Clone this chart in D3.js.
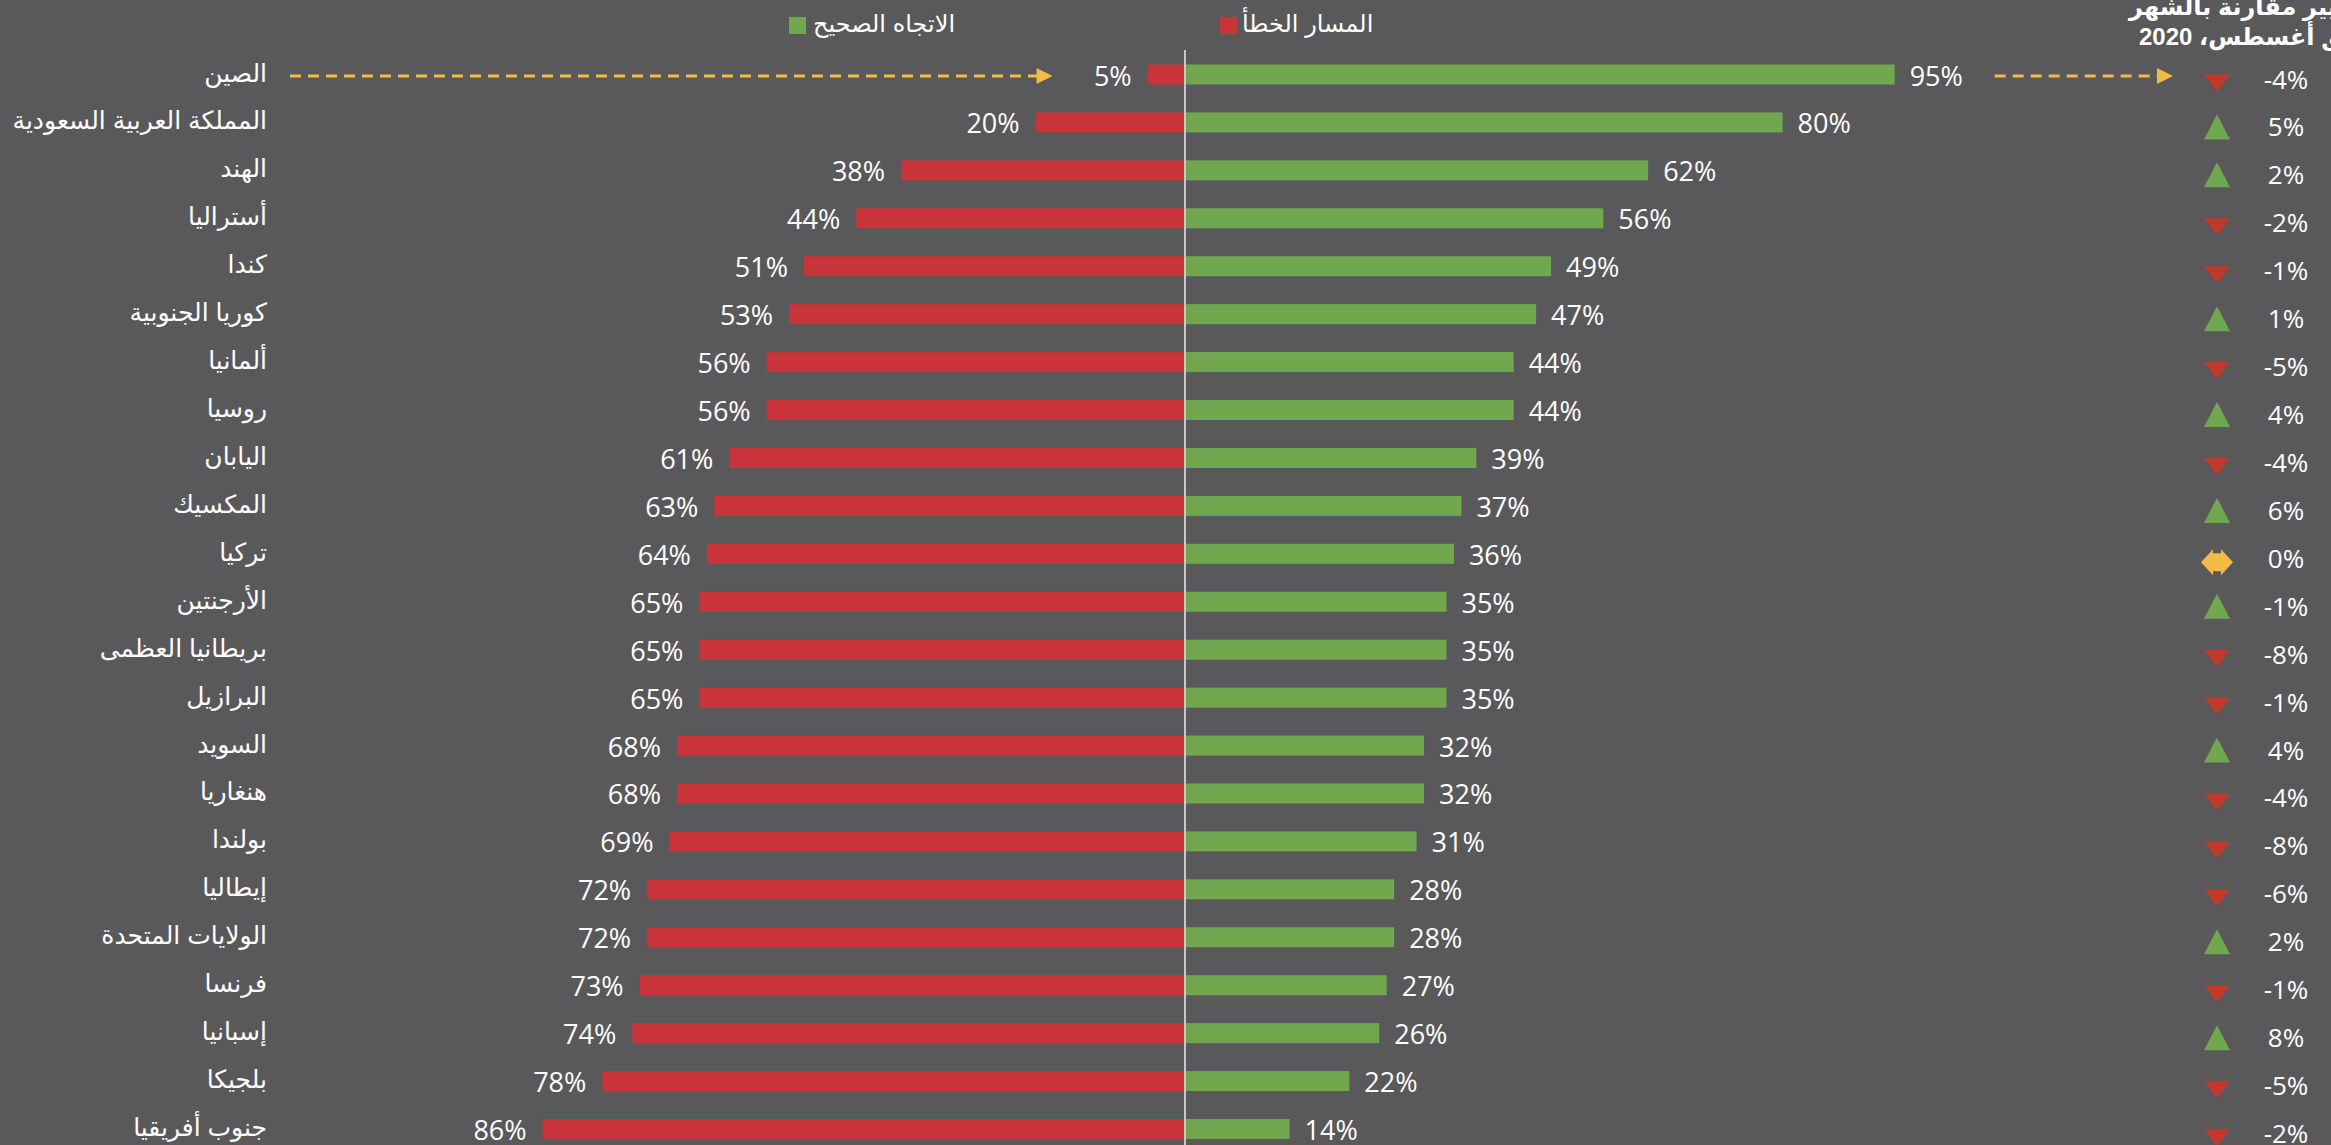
<!DOCTYPE html>
<html lang="ar">
<head>
<meta charset="utf-8">
<script src="https://cdn.jsdelivr.net/npm/d3@7"></script>
<style>
  html, body { margin: 0; padding: 0; background: #59595B; overflow: hidden; }
  svg { display: block; }
</style>
</head>
<body>
<svg id="chart" width="2331" height="1145"></svg>
<script>
// ---------------- DATA ----------------
const countries = [
  "الصين", "المملكة العربية السعودية", "الهند", "أستراليا", "كندا",
  "كوريا الجنوبية", "ألمانيا", "روسيا", "اليابان", "المكسيك", "تركيا",
  "الأرجنتين", "بريطانيا العظمى", "البرازيل", "السويد", "هنغاريا",
  "بولندا", "إيطاليا", "الولايات المتحدة", "فرنسا", "إسبانيا", "بلجيكا",
  "جنوب أفريقيا"
];
const wrongTrack = [5, 20, 38, 44, 51, 53, 56, 56, 61, 63, 64, 65, 65, 65, 68, 68, 69, 72, 72, 73, 74, 78, 86];
const rightDirection = [95, 80, 62, 56, 49, 47, 44, 44, 39, 37, 36, 35, 35, 35, 32, 32, 31, 28, 28, 27, 26, 22, 14];
const changeLabels = ["-4%", "5%", "2%", "-2%", "-1%", "1%", "-5%", "4%", "-4%", "6%", "0%", "-1%", "-8%", "-1%", "4%", "-4%", "-8%", "-6%", "2%", "-1%", "8%", "-5%", "-2%"];
const trend = ["down", "up", "up", "down", "down", "up", "down", "up", "down", "up", "flat", "up", "down", "down", "up", "down", "down", "down", "up", "down", "up", "down", "down"];
const seriesNames = ["الاتجاه الصحيح", "المسار الخطأ"];
const headerLines = ["التغيير مقارنة بالشهر", "السابق أغسطس، 2020"];

// ---------------- STYLE ----------------
const C = {
  bg: "#59595B", red: "#C9343B", green: "#71A84F", redTri: "#C0392B",
  greenTri: "#71A84F", yellow: "#F1BB45", axis: "#C8C8C8", text: "#FFFFFF"
};
const arabicFont = "Arial, 'DejaVu Sans', sans-serif";
const numFont = "'Open Sans', 'Noto Sans', sans-serif";

const svg = d3.select("#chart");
svg.append("rect").attr("width", 2331).attr("height", 1145).attr("fill", C.bg);

const cx = 1185;
const x = d3.scaleLinear().domain([-100, 100]).range([cx - 747, cx + 747]);
const y = d3.scalePoint().domain(countries).range([74.5, 1129]);
const barH = 20;

const rows = countries.map((c, i) => ({
  c, i, wrong: wrongTrack[i], right: rightDirection[i], chg: changeLabels[i], tr: trend[i]
}));

// Bars
svg.append("g").selectAll("rect").data(rows).join("rect")
  .attr("x", d => x(-d.wrong)).attr("width", d => x(0) - x(-d.wrong))
  .attr("y", d => y(d.c) - barH / 2).attr("height", barH)
  .attr("fill", C.red);
svg.append("g").selectAll("rect").data(rows).join("rect")
  .attr("x", x(0)).attr("width", d => x(d.right) - x(0))
  .attr("y", d => y(d.c) - barH / 2).attr("height", barH)
  .attr("fill", C.green);

// Center axis line
svg.append("line").attr("x1", x(0)).attr("x2", x(0)).attr("y1", 50).attr("y2", 1145)
  .attr("stroke", C.axis).attr("stroke-width", 2);

// Value labels
svg.append("g").selectAll("text").data(rows).join("text")
  .attr("x", d => x(-d.wrong) - 16).attr("y", d => y(d.c) + 11)
  .attr("text-anchor", "end").attr("fill", C.text)
  .attr("font-family", numFont).attr("font-size", 27)
  .text(d => d.wrong + "%");
svg.append("g").selectAll("text").data(rows).join("text")
  .attr("x", d => x(d.right) + 15).attr("y", d => y(d.c) + 11)
  .attr("text-anchor", "start").attr("fill", C.text)
  .attr("font-family", numFont).attr("font-size", 27)
  .text(d => d.right + "%");

// Country labels
svg.append("g").selectAll("text").data(rows).join("text")
  .attr("x", 267).attr("y", d => y(d.c) + 7)
  .attr("text-anchor", "end").attr("fill", C.text)
  .attr("font-family", arabicFont).attr("font-size", 25)
  .text(d => d.c);

// Right column: trend symbols and change labels
const symX = 2217;
const symG = svg.append("g");
rows.forEach(d => {
  const cy = y(d.c);
  let pts;
  if (d.tr === "up") {
    pts = [[0, -8], [13, 17], [-13, 17]];
    symG.append("polygon").attr("points", pts.map(p => [symX + p[0], cy + p[1]].join(",")).join(" "))
      .attr("fill", C.greenTri);
  } else if (d.tr === "down") {
    pts = [[-13, 0], [13, 0], [0, 17]];
    symG.append("polygon").attr("points", pts.map(p => [symX + p[0], cy + p[1]].join(",")).join(" "))
      .attr("fill", C.redTri);
  } else {
    const oy = 8.5;
    pts = [[-16, 0], [-4, -13], [-4, -9], [4, -9], [4, -13], [16, 0], [4, 13], [4, 9], [-4, 9], [-4, 13]];
    symG.append("polygon").attr("points", pts.map(p => [symX + p[0], cy + oy + p[1]].join(",")).join(" "))
      .attr("fill", C.yellow);
  }
});
svg.append("g").selectAll("text").data(rows).join("text")
  .attr("x", 2286).attr("y", d => y(d.c) + 14)
  .attr("text-anchor", "middle").attr("fill", C.text)
  .attr("font-family", numFont).attr("font-size", 26)
  .text(d => d.chg);

// Dashed annotation arrows (China row)
const ay = y(countries[0]) + 1.5;
function arrow(x0, xTip) {
  const g = svg.append("g");
  g.append("line").attr("x1", x0).attr("x2", xTip - 15).attr("y1", ay).attr("y2", ay)
    .attr("stroke", C.yellow).attr("stroke-width", 3).attr("stroke-dasharray", "11,7");
  g.append("polygon")
    .attr("points", `${xTip - 16},${ay - 8} ${xTip},${ay} ${xTip - 16},${ay + 8}`)
    .attr("fill", C.yellow);
}
arrow(290, x(-wrongTrack[0]) - 95);
arrow(x(rightDirection[0]) + 100, symX - 44);

// Legend
const legend = [
  { name: seriesNames[0], color: C.green, sq: 789, tx: 813 },
  { name: seriesNames[1], color: C.red, sq: 1220, tx: 1242 }
];
legend.forEach(l => {
  svg.append("rect").attr("x", l.sq).attr("y", 17).attr("width", 17).attr("height", 17).attr("fill", l.color);
  svg.append("text").attr("x", l.tx).attr("y", 32)
    .attr("direction", "rtl").attr("text-anchor", "end")
    .attr("fill", C.text).attr("font-family", arabicFont).attr("font-size", 24)
    .text(l.name);
});

// Right header (clipped by canvas edge)
const hdr = [{ t: headerLines[0], lx: 2129, by: 15 }, { t: headerLines[1], lx: 2139, by: 45 }];
hdr.forEach(h => {
  svg.append("text").attr("x", h.lx).attr("y", h.by)
    .attr("direction", "rtl").attr("text-anchor", "end")
    .attr("fill", C.text).attr("font-family", arabicFont).attr("font-weight", "bold").attr("font-size", 24)
    .text(h.t);
});
</script>
</body>
</html>
